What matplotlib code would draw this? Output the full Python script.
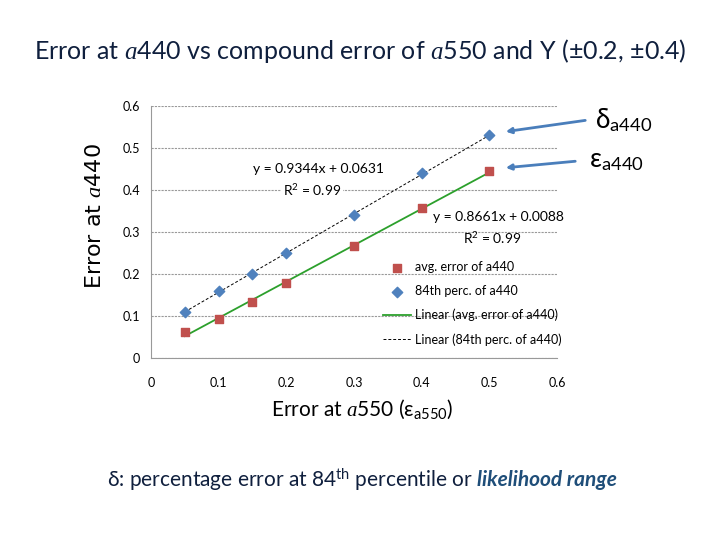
import numpy as np
import matplotlib
matplotlib.use('Agg')
import matplotlib.pyplot as plt
from matplotlib.patches import FancyArrowPatch

plt.rcParams['font.family'] = ['Lato', 'DejaVu Sans']
plt.rcParams['mathtext.fontset'] = 'custom'
plt.rcParams['mathtext.rm'] = 'Lato'
plt.rcParams['mathtext.it'] = 'Liberation Serif:italic'

x = [0.05, 0.1, 0.15, 0.2, 0.3, 0.4, 0.5]
avg_err = [0.062, 0.093, 0.133, 0.178, 0.267, 0.358, 0.446]
perc84 = [0.11, 0.16, 0.20, 0.25, 0.34, 0.44, 0.53]
fit_avg = (0.8661, 0.0088)
fit_84 = (0.9344, 0.0631)
ticks = [0, 0.1, 0.2, 0.3, 0.4, 0.5, 0.6]
tick_labels = ['0', '0.1', '0.2', '0.3', '0.4', '0.5', '0.6']

fig = plt.figure(figsize=(7.2, 5.4), dpi=100)
ax = fig.add_axes([0.2097, 0.337, 0.5639, 0.4667])

xs = np.array([x[0], x[-1]])
ax.scatter(x, avg_err, marker='s', s=26, color='#c0504d', zorder=3, label='avg. error of a440')
ax.scatter(x, perc84, marker='D', s=28, color='#4f81bd', zorder=3, label='84th perc. of a440')
ax.plot(xs, fit_avg[0] * xs + fit_avg[1], color='#2ca02c', lw=1.3, zorder=2,
        label='Linear (avg. error of a440)')
ax.plot(xs, fit_84[0] * xs + fit_84[1], color='black', lw=0.7, ls=(0, (3, 2)), zorder=2,
        label='Linear (84th perc. of a440)')

ax.set_xlim(0, 0.6)
ax.set_ylim(0, 0.6)
ax.set_xticks(ticks)
ax.set_yticks(ticks)
ax.set_xticklabels(tick_labels)
ax.set_yticklabels(tick_labels)
ax.tick_params(labelsize=9, length=0, pad=8)
ax.tick_params(axis='x', pad=14)
ax.yaxis.grid(True, color='#999999', ls=(0, (2, 1)), lw=0.8)
ax.set_axisbelow(True)
for s in ['top', 'right']:
    ax.spines[s].set_visible(False)
for s in ['left', 'bottom']:
    ax.spines[s].set_color('#999999')

ax.text(0.248, 0.45, 'y = 0.9344x + 0.0631', ha='center', va='center', fontsize=10)
ax.text(0.238, 0.4, 'R$^2$ = 0.99', ha='center', va='center', fontsize=10,
        bbox=dict(facecolor='white', edgecolor='none', pad=1))
ax.text(0.514, 0.335, 'y = 0.8661x + 0.0088', ha='center', va='center', fontsize=10)
ax.text(0.504, 0.286, 'R$^2$ = 0.99', ha='center', va='center', fontsize=10)

leg = ax.legend(loc='upper left', bbox_to_anchor=(0.56, 0.405), frameon=False, fontsize=9,
                handlelength=2.2, handletextpad=0.3, labelspacing=0.95, borderaxespad=0)

navy = '#0f1f3d'
fig.text(0.5, 0.905, 'Error at $a$440 vs compound error of $a$550 and Y (\u00b10.2, \u00b10.4)',
         ha='center', va='center', fontsize=18, color=navy)
fig.text(0.132, 0.6, 'Error at $a$440', rotation=90, ha='center', va='center', fontsize=16,
         family='DejaVu Sans')
fig.text(0.503, 0.242, 'Error at $a$550 (\u03b5$_{\\mathrm{a550}}$)', ha='center', va='center',
         fontsize=15)
fig.text(0.826, 0.777, '\u03b4$_{\\mathrm{a440}}$', ha='left', va='center', fontsize=19)
fig.text(0.818, 0.703, '\u03b5$_{\\mathrm{a440}}$', ha='left', va='center', fontsize=19)

arrow = dict(arrowstyle='-|>', color='#4a7ebb', lw=2, mutation_scale=8)
fig.add_artist(FancyArrowPatch((588 / 720, 1 - 120 / 540), (503 / 720, 1 - 132 / 540),
                               transform=fig.transFigure, **arrow))
fig.add_artist(FancyArrowPatch((578 / 720, 1 - 161 / 540), (503 / 720, 1 - 168 / 540),
                               transform=fig.transFigure, **arrow))

r = fig.text(617 / 720, 0.112, 'likelihood range', ha='right', va='center', fontsize=15,
             style='italic', weight='bold', color='#1f4e79')
fig.canvas.draw()
rb = r.get_window_extent()
fig.text(rb.x0 / fig.bbox.width - 0.006, 0.112,
         '\u03b4: percentage error at 84$^{\\mathrm{th}}$ percentile or', ha='right',
         va='center', fontsize=15, color=navy)

fig.savefig('out.png', dpi=100)
